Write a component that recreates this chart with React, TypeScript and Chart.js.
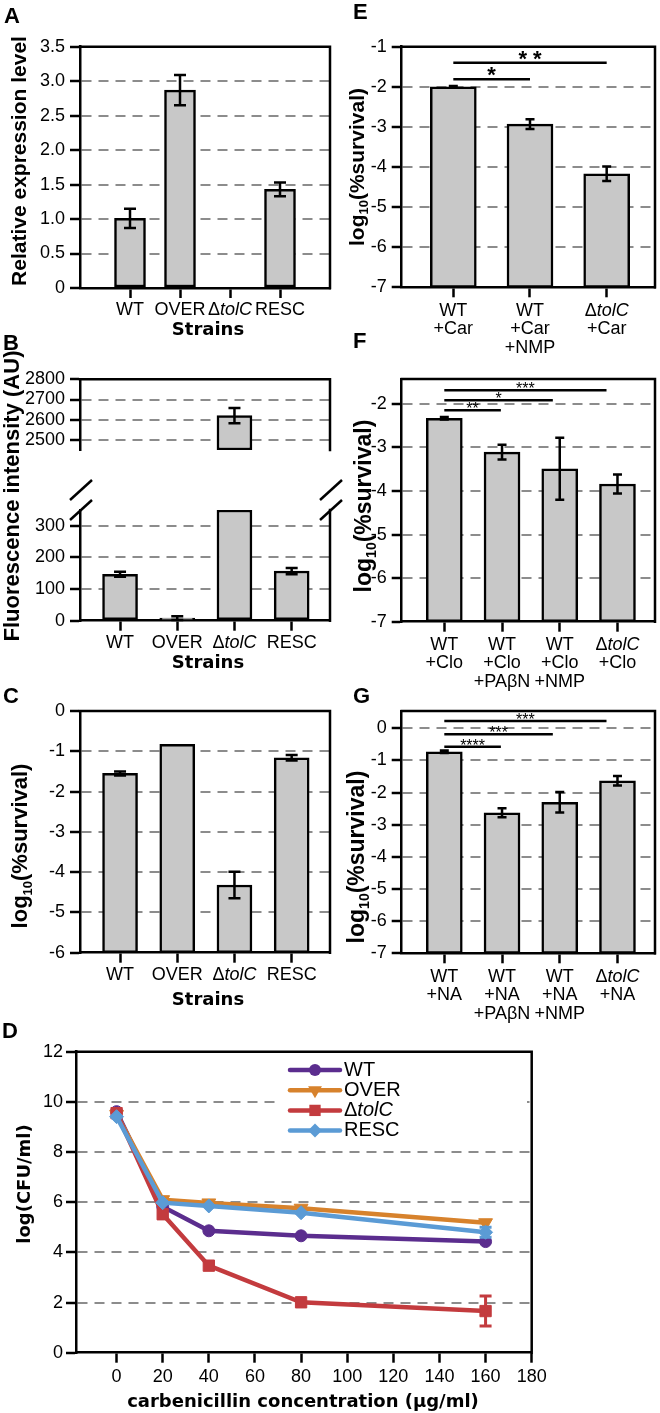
import React, { useEffect, useRef } from 'react';
import { Chart, registerables } from 'chart.js';

Chart.register(...registerables);

const PAGE_W = 660;
const PAGE_H = 1413;
const SANS = '"Liberation Sans", Arial, sans-serif';
const HEAVY = '"DejaVu Sans", sans-serif';
const INK = '#000000';
const BAR_FILL = '#c8c8c8';
const GRID = '#8c8c8c';
const LINE_W = 2.5;

// ---------- Panel A ----------
const STRAINS = ['WT', 'OVER', 'ΔtolC', 'RESC'];
const A_VALUES = [1.01, 2.87, 0, 1.43];
const A_ERRORS = [0.14, 0.22, 0, 0.1];
const A_TICKS = [0, 0.5, 1, 1.5, 2, 2.5, 3, 3.5];
const A_TICK_LABELS = ['0', '0.5', '1.0', '1.5', '2.0', '2.5', '3.0', '3.5'];

// ---------- Panel B ----------
const B_VALUES = [147, 8, 2620, 157];
const B_ERRORS = [8, 6, 38, 10];
const B_LOW_TICKS = [0, 100, 200, 300];
const B_HIGH_TICKS = [2500, 2600, 2700, 2800];
const B_LOW_RANGE = [0, 350];
const B_HIGH_RANGE = [2450, 2800];

// ---------- Panel C ----------
const C_VALUES = [-1.55, -0.83, -4.32, -1.16];
const C_ERRORS = [0.05, 0, 0.33, 0.07];
const C_TICKS = [-6, -5, -4, -3, -2, -1, 0];

// ---------- Panel E ----------
const E_GROUPS = [['WT', '+Car'], ['WT', '+Car', '+NMP'], ['ΔtolC', '+Car']];
const E_VALUES = [-2.0, -2.93, -4.17];
const E_ERRORS = [0.02, 0.12, 0.18];
const E_TICKS = [-7, -6, -5, -4, -3, -2, -1];
const E_SIG_TO = [1, 2];
const E_SIG_Y = [-1.81, -1.4];
const E_SIG_LABELS = ['*', '* *'];

// ---------- Panel F ----------
const F_GROUPS = [['WT', '+Clo'], ['WT', '+Clo', '+PAβN'], ['WT', '+Clo', '+NMP'], ['ΔtolC', '+Clo']];
const F_VALUES = [-2.33, -3.11, -3.49, -3.84];
const F_ERRORS = [0.03, 0.17, 0.71, 0.22];
const F_TICKS = [-7, -6, -5, -4, -3, -2];
const F_SIG_TO = [2.81, 1.88, 0.98];
const F_SIG_Y = [-1.69, -1.92, -2.15];
const F_SIG_LABELS = ['***', '*', '**'];

// ---------- Panel G ----------
const G_GROUPS = [['WT', '+NA'], ['WT', '+NA', '+PAβN'], ['WT', '+NA', '+NMP'], ['ΔtolC', '+NA']];
const G_VALUES = [-0.73, -2.63, -2.3, -1.63];
const G_ERRORS = [0.04, 0.14, 0.32, 0.15];
const G_TICKS = [-7, -6, -5, -4, -3, -2, -1, 0];
const G_SIG_TO = [2.81, 1.88, 0.98];
const G_SIG_Y = [0.23, -0.18, -0.57];
const G_SIG_LABELS = ['***', '***', '****'];

// ---------- Panel D ----------
const CONC = [0, 20, 40, 80, 160];
const D_X_TICKS = [0, 20, 40, 60, 80, 100, 120, 140, 160, 180];
const D_Y_TICKS = [0, 2, 4, 6, 8, 10, 12];
const WT_CFU = [9.61, 5.82, 4.86, 4.66, 4.43];
const OVER_CFU = [9.5, 6.1, 5.97, 5.76, 5.18];
const TOLC_CFU = [9.55, 5.52, 3.47, 2.01, 1.66];
const RESC_CFU = [9.41, 5.98, 5.85, 5.58, 4.8];
const WT_CFU_ERR = [0.05, 0.05, 0.08, 0.06, 0.1];
const OVER_CFU_ERR = [0.05, 0.06, 0.05, 0.06, 0.1];
const TOLC_CFU_ERR = [0.05, 0.1, 0.12, 0.06, 0.6];
const RESC_CFU_ERR = [0.05, 0.08, 0.1, 0.08, 0.2];

// ---------- text helpers ----------
type Seg = { t: string; it?: boolean; sub?: boolean };
const LOG10_SURVIVAL: Seg[] = [{ t: 'log' }, { t: '10', sub: true }, { t: '(%survival)' }];

function rich(s: string): Seg[] {
  const k = s.indexOf('tolC');
  if (k < 0) return [{ t: s }];
  const out: Seg[] = [];
  if (k > 0) out.push({ t: s.slice(0, k) });
  out.push({ t: 'tolC', it: true });
  if (k + 4 < s.length) out.push({ t: s.slice(k + 4) });
  return out;
}

function segFont(s: Seg, size: number, weight: string, family: string) {
  const sz = s.sub ? Math.round(size * 0.6) : size;
  return `${s.it ? 'italic ' : ''}${weight} ${sz}px ${family}`;
}

function drawRich(ctx: CanvasRenderingContext2D, segs: Seg[], x: number, y: number, size: number,
  weight = 'normal', family = SANS, align: 'center' | 'left' = 'center') {
  ctx.save();
  ctx.textBaseline = 'middle';
  ctx.textAlign = 'left';
  ctx.fillStyle = INK;
  let total = 0;
  const widths = segs.map((s) => {
    ctx.font = segFont(s, size, weight, family);
    const w = ctx.measureText(s.t).width;
    total += w;
    return w;
  });
  let cx = align === 'center' ? x - total / 2 : x;
  segs.forEach((s, i) => {
    ctx.font = segFont(s, size, weight, family);
    ctx.fillText(s.t, cx, y + (s.sub ? size * 0.32 : 0));
    cx += widths[i];
  });
  ctx.restore();
}

function drawVTitle(ctx: CanvasRenderingContext2D, segs: Seg[], cx: number, cy: number, size: number,
  family = SANS) {
  ctx.save();
  ctx.translate(cx, cy);
  ctx.rotate(-Math.PI / 2);
  drawRich(ctx, segs, 0, 0, size, 'bold', family, 'center');
  ctx.restore();
}

function drawLetter(ctx: CanvasRenderingContext2D, letter: string, x: number, baseline: number) {
  ctx.save();
  ctx.font = `bold 22px ${SANS}`;
  ctx.textBaseline = 'alphabetic';
  ctx.textAlign = 'left';
  ctx.fillStyle = INK;
  ctx.fillText(letter, x, baseline);
  ctx.restore();
}

function drawXLabels(ctx: CanvasRenderingContext2D, chart: any, groups: string[][], firstY: number, step = 18.5) {
  const xs = chart.scales.x;
  groups.forEach((lines, i) => {
    const x = xs.getPixelForValue(i);
    lines.forEach((line, j) => drawRich(ctx, rich(line), x, firstY + j * step, 18));
  });
}

function drawHeavy(ctx: CanvasRenderingContext2D, text: string, x: number, y: number) {
  drawRich(ctx, [{ t: text }], x, y, 18, 'bold', HEAVY, 'center');
}

function drawSig(ctx: CanvasRenderingContext2D, chart: any, to: number[], ys: number[], labels: string[],
  font: string, offset: number) {
  const xs = chart.scales.x;
  const yS = chart.scales.y;
  ctx.save();
  ctx.strokeStyle = INK;
  ctx.lineWidth = LINE_W;
  ctx.fillStyle = INK;
  ctx.font = font;
  ctx.textAlign = 'center';
  ctx.textBaseline = 'alphabetic';
  to.forEach((t, k) => {
    const x1 = xs.getPixelForValue(0);
    const x2 = xs.getPixelForValue(t);
    const y = yS.getPixelForValue(ys[k]);
    ctx.beginPath();
    ctx.moveTo(x1, y);
    ctx.lineTo(x2, y);
    ctx.stroke();
    ctx.fillText(labels[k], (x1 + x2) / 2, y + offset);
  });
  ctx.restore();
}

// ---------- bar panel builder ----------
type Area = { l: number; t: number; r: number; b: number };
interface BarSpec {
  area: Area;
  xMin: number; xMax: number;
  yMin: number; yMax: number;
  yTicks: number[];
  yTickLabels?: string[];
  values: number[];
  errors: number[];
  barPx: number;
  cap: number;
  showX: boolean;
  boxTop: boolean;
  decorate?: (ctx: CanvasRenderingContext2D, chart: any) => void;
}

function buildBar(canvas: HTMLCanvasElement, s: BarSpec): Chart {
  const YW = 60;
  const XH = 40;
  const idx = s.values.map((_, i) => i);
  const labels = s.yTickLabels ?? s.yTicks.map((v) => String(v));
  const decor = {
    id: 'decor',
    afterDatasetsDraw(chart: any) {
      const ctx = chart.ctx;
      const xs = chart.scales.x;
      const ys = chart.scales.y;
      ctx.save();
      ctx.strokeStyle = INK;
      ctx.lineWidth = LINE_W;
      s.values.forEach((v, i) => {
        const e = s.errors[i];
        if (!(e > 0) || v <= s.yMin || v > s.yMax) return;
        const x = xs.getPixelForValue(i);
        const yTop = ys.getPixelForValue(v + e);
        const yBot = ys.getPixelForValue(v - e);
        const h = s.cap / 2;
        ctx.beginPath();
        ctx.moveTo(x, yTop); ctx.lineTo(x, yBot);
        ctx.moveTo(x - h, yTop); ctx.lineTo(x + h, yTop);
        ctx.moveTo(x - h, yBot); ctx.lineTo(x + h, yBot);
        ctx.stroke();
      });
      ctx.restore();
    },
    afterDraw(chart: any) {
      const ctx = chart.ctx;
      const a = chart.chartArea;
      ctx.save();
      ctx.strokeStyle = INK;
      ctx.lineWidth = LINE_W;
      ctx.lineCap = 'square';
      ctx.beginPath();
      if (s.boxTop) { ctx.moveTo(a.left, a.top); ctx.lineTo(a.right, a.top); }
      ctx.moveTo(a.right, a.top); ctx.lineTo(a.right, a.bottom);
      ctx.stroke();
      ctx.restore();
      if (s.decorate) s.decorate(ctx, chart);
    },
  };
  const { l, t, r, b } = s.area;
  return new Chart(canvas, {
    type: 'bar',
    data: {
      datasets: [{
        data: s.values.map((v, i) => ({ x: i, y: v > s.yMin ? [s.yMin, Math.min(v, s.yMax)] : null })) as any,
        backgroundColor: BAR_FILL,
        borderColor: INK,
        borderWidth: LINE_W,
        borderSkipped: false,
        barThickness: s.barPx,
      }],
    },
    options: {
      responsive: false,
      animation: false,
      events: [],
      layout: { padding: { left: l - YW, top: t, right: PAGE_W - r, bottom: PAGE_H - b - (s.showX ? XH : 0) } },
      plugins: { legend: { display: false }, tooltip: { enabled: false } },
      scales: {
        x: {
          type: 'linear', display: s.showX, min: s.xMin, max: s.xMax, offset: false,
          afterBuildTicks: (sc: any) => { sc.ticks = idx.map((v) => ({ value: v })); },
          afterFit: (sc: any) => { sc.height = XH; },
          ticks: { display: false },
          grid: { drawOnChartArea: false, drawTicks: true, tickLength: 10, tickColor: INK, tickWidth: LINE_W, offset: false },
          border: { display: true, color: INK, width: LINE_W },
        },
        y: {
          type: 'linear', min: s.yMin, max: s.yMax,
          afterBuildTicks: (sc: any) => { sc.ticks = s.yTicks.map((v) => ({ value: v })); },
          afterFit: (sc: any) => { sc.width = YW; },
          ticks: {
            callback: (_v: any, i: number) => labels[i],
            color: INK, font: { family: SANS, size: 18 }, padding: 5, autoSkip: false,
          },
          grid: {
            color: (c: any) => (c.tick && c.tick.value > s.yMin && c.tick.value < s.yMax ? GRID : 'rgba(0,0,0,0)'),
            lineWidth: 2, drawTicks: true, tickLength: 10, tickColor: INK, tickWidth: LINE_W,
          },
          border: { display: true, color: INK, width: LINE_W, dash: [10, 7] },
        },
      },
    } as any,
    plugins: [decor],
  });
}

// ---------- panels ----------
const BC_X: [number, number] = [-0.7, 3.67];
const FG_X: [number, number] = [-0.738, 3.65];
const single = (arr: string[]) => arr.map((s) => [s]);

const buildA = (c: HTMLCanvasElement) => buildBar(c, {
  area: { l: 80, t: 46.7, r: 330, b: 288 }, xMin: -1, xMax: 4, yMin: 0, yMax: 3.5,
  yTicks: A_TICKS, yTickLabels: A_TICK_LABELS, values: A_VALUES, errors: A_ERRORS,
  barPx: 31, cap: 12, showX: true, boxTop: true,
  decorate: (ctx, chart) => {
    drawLetter(ctx, 'A', 4, 23);
    drawVTitle(ctx, [{ t: 'Relative expression level' }], 20, 161, 21);
    drawXLabels(ctx, chart, single(STRAINS), 310);
    drawHeavy(ctx, 'Strains', 208, 330);
  },
});

const buildBHigh = (c: HTMLCanvasElement) => buildBar(c, {
  area: { l: 80, t: 379.3, r: 330, b: 490 }, xMin: BC_X[0], xMax: BC_X[1],
  yMin: B_HIGH_RANGE[0], yMax: B_HIGH_RANGE[1], yTicks: B_HIGH_TICKS,
  values: B_VALUES, errors: B_ERRORS, barPx: 35, cap: 12, showX: false, boxTop: true,
});

const buildBLow = (c: HTMLCanvasElement) => buildBar(c, {
  area: { l: 80, t: 510, r: 330, b: 620.7 }, xMin: BC_X[0], xMax: BC_X[1],
  yMin: B_LOW_RANGE[0], yMax: B_LOW_RANGE[1], yTicks: B_LOW_TICKS,
  values: B_VALUES, errors: B_ERRORS, barPx: 35, cap: 12, showX: true, boxTop: false,
  decorate: (ctx, chart) => {
    drawLetter(ctx, 'B', 3, 350);
    drawVTitle(ctx, [{ t: 'Fluorescence intensity (AU)' }], 13, 496, 22);
    drawXLabels(ctx, chart, single(STRAINS), 643);
    drawHeavy(ctx, 'Strains', 208, 663);
    // axis break marks
    const a = chart.chartArea;
    ctx.save();
    ctx.strokeStyle = INK;
    ctx.lineWidth = LINE_W;
    [a.left, a.right].forEach((x) => {
      [490, 510].forEach((cy) => {
        ctx.beginPath();
        ctx.moveTo(x + 1 - 11, cy + 10);
        ctx.lineTo(x + 1 + 11, cy - 10);
        ctx.stroke();
      });
    });
    ctx.restore();
  },
});

const buildC = (c: HTMLCanvasElement) => buildBar(c, {
  area: { l: 80, t: 711, r: 330, b: 952.7 }, xMin: BC_X[0], xMax: BC_X[1], yMin: -6, yMax: 0,
  yTicks: C_TICKS, values: C_VALUES, errors: C_ERRORS, barPx: 35, cap: 12, showX: true, boxTop: true,
  decorate: (ctx, chart) => {
    drawLetter(ctx, 'C', 3, 703);
    drawVTitle(ctx, LOG10_SURVIVAL, 21, 846, 22);
    drawXLabels(ctx, chart, single(STRAINS), 975);
    drawHeavy(ctx, 'Strains', 208, 1000);
  },
});

const buildE = (c: HTMLCanvasElement) => buildBar(c, {
  area: { l: 401.7, t: 46.7, r: 655, b: 287.3 }, xMin: -0.673, xMax: 2.63, yMin: -7, yMax: -1,
  yTicks: E_TICKS, values: E_VALUES, errors: E_ERRORS, barPx: 46, cap: 9, showX: true, boxTop: true,
  decorate: (ctx, chart) => {
    drawLetter(ctx, 'E', 353, 19);
    drawVTitle(ctx, LOG10_SURVIVAL, 358, 167, 21);
    drawXLabels(ctx, chart, E_GROUPS, 311);
    drawSig(ctx, chart, E_SIG_TO, E_SIG_Y, E_SIG_LABELS, `bold 22px ${SANS}`, 3);
  },
});

const buildF = (c: HTMLCanvasElement) => buildBar(c, {
  area: { l: 401.7, t: 379, r: 655, b: 621.7 }, xMin: FG_X[0], xMax: FG_X[1], yMin: -7, yMax: -1.43,
  yTicks: F_TICKS, values: F_VALUES, errors: F_ERRORS, barPx: 36, cap: 9, showX: true, boxTop: true,
  decorate: (ctx, chart) => {
    drawLetter(ctx, 'F', 353, 348);
    drawVTitle(ctx, LOG10_SURVIVAL, 365, 506, 23);
    drawXLabels(ctx, chart, F_GROUPS, 645);
    drawSig(ctx, chart, F_SIG_TO, F_SIG_Y, F_SIG_LABELS, `16px ${SANS}`, 4);
  },
});

const buildG = (c: HTMLCanvasElement) => buildBar(c, {
  area: { l: 401.7, t: 711, r: 655, b: 953.3 }, xMin: FG_X[0], xMax: FG_X[1], yMin: -7, yMax: 0.54,
  yTicks: G_TICKS, values: G_VALUES, errors: G_ERRORS, barPx: 36, cap: 9, showX: true, boxTop: true,
  decorate: (ctx, chart) => {
    drawLetter(ctx, 'G', 353, 703);
    drawVTitle(ctx, LOG10_SURVIVAL, 358, 857, 23);
    drawXLabels(ctx, chart, G_GROUPS, 977);
    drawSig(ctx, chart, G_SIG_TO, G_SIG_Y, G_SIG_LABELS, `16px ${SANS}`, 4);
  },
});

// ---------- panel D (line chart) ----------
const D_SERIES = [
  { name: 'WT', vals: WT_CFU, errs: WT_CFU_ERR, color: '#5b2d8e', style: 'circle', radius: 6, rot: 0, order: 3 },
  { name: 'OVER', vals: OVER_CFU, errs: OVER_CFU_ERR, color: '#d7822c', style: 'triangle', radius: 8, rot: 180, order: 2 },
  { name: 'ΔtolC', vals: TOLC_CFU, errs: TOLC_CFU_ERR, color: '#c33b3e', style: 'rect', radius: 8, rot: 0, order: 1 },
  { name: 'RESC', vals: RESC_CFU, errs: RESC_CFU_ERR, color: '#5b9bd5', style: 'rectRot', radius: 7, rot: 0, order: 0 },
];

function drawMarker(ctx: CanvasRenderingContext2D, style: string, x: number, y: number, r: number, color: string) {
  ctx.fillStyle = color;
  ctx.beginPath();
  if (style === 'circle') {
    ctx.arc(x, y, r, 0, Math.PI * 2);
  } else if (style === 'triangle') {
    ctx.moveTo(x, y + r);
    ctx.lineTo(x + r * 0.866, y - r / 2);
    ctx.lineTo(x - r * 0.866, y - r / 2);
    ctx.closePath();
  } else if (style === 'rect') {
    const h = r * Math.SQRT1_2;
    ctx.rect(x - h, y - h, 2 * h, 2 * h);
  } else {
    ctx.moveTo(x, y - r);
    ctx.lineTo(x + r, y);
    ctx.lineTo(x, y + r);
    ctx.lineTo(x - r, y);
    ctx.closePath();
  }
  ctx.fill();
}

function buildD(canvas: HTMLCanvasElement): Chart {
  const area = { l: 76, t: 1051.7, r: 531.7, b: 1352.7 };
  const YW = 60;
  const XH = 40;
  const decor = {
    id: 'decorD',
    afterDatasetsDraw(chart: any) {
      const ctx = chart.ctx;
      const xs = chart.scales.x;
      const ys = chart.scales.y;
      ctx.save();
      ctx.lineWidth = 3;
      D_SERIES.forEach((s) => {
        ctx.strokeStyle = s.color;
        CONC.forEach((c, i) => {
          const e = s.errs[i];
          if (e < 0.15) return;
          const x = xs.getPixelForValue(c);
          const y1 = ys.getPixelForValue(s.vals[i] + e);
          const y2 = ys.getPixelForValue(s.vals[i] - e);
          ctx.beginPath();
          ctx.moveTo(x, y1); ctx.lineTo(x, y2);
          ctx.moveTo(x - 6, y1); ctx.lineTo(x + 6, y1);
          ctx.moveTo(x - 6, y2); ctx.lineTo(x + 6, y2);
          ctx.stroke();
        });
      });
      ctx.restore();
    },
    afterDraw(chart: any) {
      const ctx = chart.ctx;
      const a = chart.chartArea;
      ctx.save();
      ctx.strokeStyle = INK;
      ctx.lineWidth = LINE_W;
      ctx.lineCap = 'square';
      ctx.beginPath();
      ctx.moveTo(a.left, a.top); ctx.lineTo(a.right, a.top);
      ctx.lineTo(a.right, a.bottom);
      ctx.stroke();
      // legend
      ctx.fillStyle = '#ffffff';
      ctx.fillRect(275, 1057, 252, 86);
      D_SERIES.forEach((s, k) => {
        const y = 1070 + k * 20.2;
        ctx.strokeStyle = s.color;
        ctx.lineWidth = 4.5;
        ctx.lineCap = 'round';
        ctx.beginPath();
        ctx.moveTo(290, y); ctx.lineTo(340, y);
        ctx.stroke();
        drawMarker(ctx, s.style, 315, y, s.radius, s.color);
        drawRich(ctx, rich(s.name), 344, y, 20, 'normal', SANS, 'left');
      });
      ctx.restore();
      drawLetter(ctx, 'D', 2, 1038);
      drawVTitle(ctx, [{ t: 'log(CFU/ml)' }], 25, 1184, 18, HEAVY);
      drawHeavy(ctx, 'carbenicillin concentration (μg/ml)', 303, 1402);
    },
  };
  return new Chart(canvas, {
    type: 'line',
    data: {
      datasets: D_SERIES.map((s) => ({
        label: s.name,
        data: CONC.map((c, i) => ({ x: c, y: s.vals[i] })),
        borderColor: s.color,
        backgroundColor: s.color,
        borderWidth: 4.5,
        pointStyle: s.style,
        pointRadius: s.radius,
        pointRotation: s.rot,
        pointBorderWidth: 1,
        pointBorderColor: s.color,
        pointBackgroundColor: s.color,
        tension: 0,
        order: s.order,
      })),
    },
    options: {
      responsive: false,
      animation: false,
      events: [],
      layout: { padding: { left: area.l - YW, top: area.t, right: PAGE_W - area.r, bottom: PAGE_H - area.b - XH } },
      plugins: { legend: { display: false }, tooltip: { enabled: false } },
      scales: {
        x: {
          type: 'linear', min: -17.6, max: 180, offset: false,
          afterBuildTicks: (sc: any) => { sc.ticks = D_X_TICKS.map((v) => ({ value: v })); },
          afterFit: (sc: any) => { sc.height = XH; },
          ticks: {
            callback: (v: any) => String(v), color: INK, font: { family: SANS, size: 18 },
            padding: 4, maxRotation: 0, autoSkip: false,
          },
          grid: { drawOnChartArea: false, drawTicks: true, tickLength: 10, tickColor: INK, tickWidth: LINE_W },
          border: { display: true, color: INK, width: LINE_W },
        },
        y: {
          type: 'linear', min: 0, max: 12,
          afterBuildTicks: (sc: any) => { sc.ticks = D_Y_TICKS.map((v) => ({ value: v })); },
          afterFit: (sc: any) => { sc.width = YW; },
          ticks: { callback: (v: any) => String(v), color: INK, font: { family: SANS, size: 18 }, padding: 3, autoSkip: false },
          grid: {
            color: (c: any) => (c.tick && c.tick.value > 0 && c.tick.value < 12 ? GRID : 'rgba(0,0,0,0)'),
            lineWidth: 2, drawTicks: true, tickLength: 10, tickColor: INK, tickWidth: LINE_W,
          },
          border: { display: true, color: INK, width: LINE_W, dash: [10, 7] },
        },
      },
    } as any,
    plugins: [decor],
  });
}

// ---------- React ----------
function PanelCanvas({ build }: { build: (c: HTMLCanvasElement) => Chart }) {
  const ref = useRef<HTMLCanvasElement>(null);
  useEffect(() => {
    if (!ref.current) return;
    const chart = build(ref.current);
    return () => chart.destroy();
  }, [build]);
  return (
    <canvas
      ref={ref}
      width={PAGE_W}
      height={PAGE_H}
      style={{ position: 'absolute', left: 0, top: 0, width: PAGE_W, height: PAGE_H }}
    />
  );
}

const BUILDERS = [buildA, buildBHigh, buildBLow, buildC, buildD, buildE, buildF, buildG];

export default function App() {
  return (
    <div style={{ position: 'absolute', left: 0, top: 0, width: PAGE_W, height: PAGE_H, background: '#ffffff' }}>
      {BUILDERS.map((b, i) => (
        <PanelCanvas key={i} build={b} />
      ))}
    </div>
  );
}
